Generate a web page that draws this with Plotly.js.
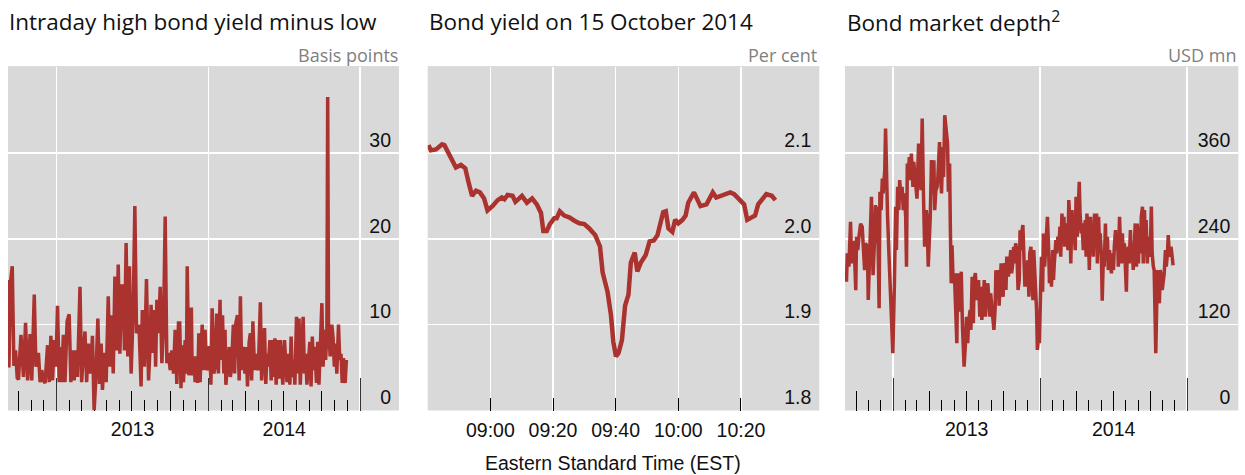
<!DOCTYPE html>
<html><head><meta charset="utf-8">
<script src="https://cdn.plot.ly/plotly-3.0.1.min.js"></script>
<style>html,body{margin:0;padding:0;background:#fff}#chart{width:1245px;height:475px}</style>
</head><body><div id="chart"></div>
<script>
// ---------- texts ----------
const panelTitles = ['Intraday high bond yield minus low', 'Bond yield on 15 October 2014', 'Bond market depth<sup>2</sup>'];
const unitLabels = ['Basis points', 'Per cent', 'USD mn'];
const xTitle2 = 'Eastern Standard Time (EST)';

// ---------- panel 1: intraday high minus low (basis points) ----------
const dates1 = ['2012-09-06','2012-09-08','2012-09-12','2012-09-16','2012-09-20','2012-09-24','2012-09-28','2012-10-01','2012-10-07','2012-10-13','2012-10-18','2012-10-23','2012-10-29','2012-11-02','2012-11-08','2012-11-12','2012-11-18','2012-11-22','2012-11-26','2012-11-30','2012-12-04','2012-12-10','2012-12-14','2012-12-18','2012-12-22','2012-12-26','2012-12-30',
'2013-01-03','2013-01-07','2013-01-11','2013-01-13','2013-01-17','2013-01-21','2013-01-26','2013-01-31','2013-02-04','2013-02-08','2013-02-12','2013-02-16','2013-02-20','2013-02-26','2013-03-02','2013-03-07','2013-03-10','2013-03-14','2013-03-18','2013-03-23','2013-03-28','2013-04-01','2013-04-05','2013-04-10','2013-04-14','2013-04-18','2013-04-21','2013-04-26','2013-04-30','2013-05-05','2013-05-09','2013-05-13','2013-05-17','2013-05-21','2013-05-25','2013-05-29','2013-06-02','2013-06-06','2013-06-10','2013-06-13','2013-06-17','2013-06-21','2013-06-25','2013-06-29','2013-07-04','2013-07-08','2013-07-12','2013-07-18','2013-07-23','2013-07-26','2013-07-31','2013-08-05','2013-08-10','2013-08-14','2013-08-16','2013-08-20','2013-08-24','2013-08-27','2013-08-30','2013-09-03','2013-09-07','2013-09-11','2013-09-15','2013-09-19','2013-09-23','2013-09-27','2013-10-01','2013-10-05','2013-10-09','2013-10-13','2013-10-17','2013-10-21',
'2013-10-24','2013-10-27','2013-10-30','2013-11-02','2013-11-06','2013-11-09','2013-11-11','2013-11-15','2013-11-18','2013-11-21','2013-11-23','2013-11-27','2013-11-30','2013-12-03','2013-12-06','2013-12-09','2013-12-12','2013-12-14','2013-12-17','2013-12-21','2013-12-24','2013-12-27','2013-12-30',
'2014-01-03','2014-01-07','2014-01-10','2014-01-14','2014-01-17','2014-01-21','2014-01-25','2014-01-29','2014-01-31','2014-02-04','2014-02-07','2014-02-10','2014-02-12','2014-02-16','2014-02-20','2014-02-23','2014-02-26','2014-03-02','2014-03-05','2014-03-08','2014-03-12','2014-03-16','2014-03-19','2014-03-22','2014-03-26','2014-03-30','2014-04-02','2014-04-05','2014-04-09','2014-04-12','2014-04-15','2014-04-18','2014-04-22','2014-04-25','2014-04-28','2014-05-01','2014-05-03','2014-05-06','2014-05-09','2014-05-12','2014-05-16','2014-05-19','2014-05-22','2014-05-25','2014-05-29','2014-06-01','2014-06-04','2014-06-07','2014-06-10','2014-06-13','2014-06-17','2014-06-20','2014-06-23','2014-06-26','2014-06-29','2014-07-03','2014-07-06','2014-07-09','2014-07-12','2014-07-16','2014-07-19','2014-07-22','2014-07-25','2014-07-28','2014-08-01','2014-08-04','2014-08-07','2014-08-10','2014-08-13','2014-08-17','2014-08-20','2014-08-23','2014-08-26','2014-08-29','2014-09-02','2014-09-05','2014-09-08','2014-09-11','2014-09-14','2014-09-18','2014-09-21','2014-09-24','2014-09-27','2014-10-01','2014-10-04','2014-10-07','2014-10-10','2014-10-13','2014-10-15','2014-10-17','2014-10-21','2014-10-25','2014-10-28','2014-10-31','2014-11-03','2014-11-06','2014-11-10','2014-11-13','2014-11-16','2014-11-19','2014-11-22','2014-11-26','2014-11-29'];
const spread1 = [15.2,5.0,15.0,16.8,5.2,7.0,3.8,3.6,8.8,3.9,10.2,3.5,8.9,3.5,13.5,5.1,6.7,3.3,4.7,3.5,3.2,7.6,3.3,8.7,3.5,8.2,5.1,
12.2,3.3,7.4,3.3,8.8,3.3,10.4,11.2,3.3,7.0,3.5,7.0,3.9,14.4,3.3,7.4,9.2,3.3,7.8,4.3,8.7,0,3.5,10.7,3.1,7.8,2.4,6.7,3.3,13.3,5.1,11.1,4.3,15.6,7.0,17.0,6.6,14.5,14.5,7.0,19.5,6.3,16.8,4.3,11.5,23.8,9.0,10.0,2.8,11.7,5.1,15.3,3.5,7.8,12.3,6.7,11.7,5.1,12.9,9.0,14.4,5.5,9.8,22.6,5.5,6.7,4.7,7.0,4.3,9.4,3.1,10.2,
10.2,2.6,7.6,3.3,8.2,4.3,16.8,4.1,6.3,12.0,4.1,6.3,3.3,6.3,3.2,9.0,3.3,6.3,10.0,4.7,9.4,5.1,4.7,
7.5,3.0,11.9,4.3,5.1,11.3,4.3,12.9,5.9,11.1,4.3,9.4,3.0,5.5,7.4,3.9,5.5,10.0,4.3,10.2,11.1,3.5,13.3,4.7,7.4,4.3,7.4,2.8,8.0,9.0,3.5,10.4,4.7,6.6,5.1,4.7,7.8,12.6,3.5,6.6,9.6,3.1,6.6,5.1,8.2,3.5,8.2,3.9,8.4,3.0,8.2,3.7,8.2,5.5,3.0,8.2,5.5,3.3,6.6,3.0,8.6,3.9,5.9,3.0,10.9,4.3,10.7,3.0,6.6,10.9,4.3,6.6,3.0,5.9,8.0,2.8,8.6,4.7,7.4,3.2,8.0,3.0,6.3,12.5,5.1,9.4,5.9,9.0,36.5,9.8,6.3,10.0,8.4,5.1,7.8,4.3,10.0,5.9,6.6,3.2,6.1,3.2,5.9];

// ---------- panel 2: yield on 15 October 2014 (per cent) ----------
const day2 = '2014-10-15';
const times2 = ['08:40:15','08:41:00','08:42:40','08:44:35','08:45:20','08:46:55','08:49:00','08:50:35','08:52:00','08:53:05','08:54:10','08:55:25','08:56:40','08:58:00','08:59:05','09:00:40','09:02:20','09:03:40','09:04:30','09:05:30','09:07:05','09:08:00','09:10:05','09:11:40','09:13:20','09:14:50','09:16:10','09:16:55','09:18:00','09:19:00','09:20:25','09:21:10','09:22:10','09:23:35','09:25:10','09:26:50','09:28:25','09:30:00','09:31:35','09:33:30','09:35:00','09:35:50','09:37:25','09:38:30','09:39:15','09:40:05','09:40:55','09:42:00','09:43:00','09:44:05','09:44:50','09:46:05','09:46:55','09:48:00','09:49:35','09:50:50','09:52:10','09:53:20','09:54:25','09:55:10','09:56:00','09:56:50','09:58:05','09:59:00','10:00:00','10:01:20','10:02:20','10:03:10','10:05:00','10:06:00','10:07:05','10:09:00','10:11:00','10:12:05','10:13:30','10:15:05','10:16:35','10:17:50','10:19:25','10:21:00','10:22:00','10:23:00','10:24:30','10:25:30','10:26:35','10:28:05','10:29:50','10:31:00'];
const yield2 = [2.109,2.103,2.104,2.110,2.109,2.097,2.083,2.086,2.082,2.065,2.050,2.056,2.054,2.047,2.033,2.038,2.045,2.048,2.046,2.051,2.050,2.043,2.050,2.042,2.047,2.040,2.030,2.009,2.009,2.017,2.024,2.024,2.032,2.027,2.025,2.021,2.018,2.017,2.012,2.004,1.991,1.961,1.938,1.911,1.880,1.863,1.867,1.882,1.922,1.935,1.972,1.984,1.962,1.972,1.981,1.997,1.998,2.004,2.019,2.031,2.032,2.012,2.008,2.022,2.018,2.022,2.027,2.042,2.054,2.046,2.038,2.040,2.054,2.048,2.050,2.052,2.054,2.052,2.046,2.040,2.022,2.024,2.027,2.040,2.045,2.052,2.050,2.045];
const timeTicks2 = ['09:00','09:20','09:40','10:00','10:20'];

// ---------- panel 3: market depth (USD mn) ----------
const dates3 = ['2012-09-07','2012-09-09','2012-09-13','2012-09-17','2012-09-20','2012-09-23','2012-09-26','2012-09-30','2012-10-02','2012-10-05','2012-10-08','2012-10-12','2012-10-16','2012-10-19','2012-10-22','2012-10-24','2012-10-29','2012-10-31','2012-11-03','2012-11-08','2012-11-10','2012-11-12','2012-11-16','2012-11-18','2012-11-21','2012-11-23','2012-11-27','2012-11-29','2012-12-02','2012-12-05','2012-12-07','2012-12-11','2012-12-13','2012-12-15','2012-12-18','2012-12-21','2012-12-24','2012-12-27','2012-12-30','2012-12-31',
'2013-01-04','2013-01-07','2013-01-09','2013-01-12','2013-01-15','2013-01-17','2013-01-21','2013-01-23','2013-01-26','2013-01-29','2013-02-01','2013-02-03','2013-02-05','2013-02-07','2013-02-10','2013-02-13','2013-02-15','2013-02-19','2013-02-21','2013-02-24','2013-02-27','2013-03-01','2013-03-05','2013-03-07','2013-03-11','2013-03-14','2013-03-17','2013-03-20','2013-03-24','2013-03-26','2013-03-29','2013-04-01','2013-04-03','2013-04-06','2013-04-09','2013-04-12','2013-04-14','2013-04-17','2013-04-20','2013-04-22','2013-04-26','2013-04-28','2013-05-01','2013-05-04','2013-05-06','2013-05-09','2013-05-12','2013-05-16','2013-05-18','2013-05-21','2013-05-23','2013-05-25','2013-05-27','2013-05-30','2013-06-02','2013-06-04','2013-06-08','2013-06-10','2013-06-13','2013-06-16','2013-06-19','2013-06-22','2013-06-24','2013-06-26','2013-06-29','2013-07-02','2013-07-05','2013-07-07','2013-07-11','2013-07-13','2013-07-16','2013-07-19','2013-07-21','2013-07-24','2013-07-26','2013-07-29','2013-08-01','2013-08-04','2013-08-07','2013-08-09','2013-08-13','2013-08-15','2013-08-18','2013-08-20','2013-08-24','2013-08-26','2013-08-29','2013-08-31','2013-09-03','2013-09-06','2013-09-08','2013-09-11','2013-09-13','2013-09-16','2013-09-18','2013-09-21','2013-09-23','2013-09-26','2013-09-28','2013-10-01','2013-10-03','2013-10-06','2013-10-08','2013-10-10','2013-10-14','2013-10-16','2013-10-20','2013-10-22','2013-10-24','2013-10-27','2013-10-29','2013-11-01','2013-11-04','2013-11-07','2013-11-10','2013-11-12','2013-11-14','2013-11-17','2013-11-19','2013-11-21','2013-11-24','2013-11-27','2013-11-29','2013-12-01','2013-12-04','2013-12-06','2013-12-09','2013-12-11','2013-12-14','2013-12-16','2013-12-20','2013-12-23','2013-12-25','2013-12-28','2013-12-30',
'2014-01-02','2014-01-04','2014-01-07','2014-01-09','2014-01-12','2014-01-14','2014-01-17','2014-01-19','2014-01-22','2014-01-24','2014-01-27','2014-01-29','2014-02-01','2014-02-03','2014-02-05','2014-02-09','2014-02-11','2014-02-14','2014-02-16','2014-02-19','2014-02-21','2014-02-24','2014-02-26','2014-03-01','2014-03-03','2014-03-06','2014-03-08','2014-03-11','2014-03-13','2014-03-16','2014-03-18','2014-03-21','2014-03-23','2014-03-25','2014-03-29','2014-03-31','2014-04-03','2014-04-05','2014-04-08','2014-04-10','2014-04-13','2014-04-15','2014-04-18','2014-04-20','2014-04-23','2014-04-25','2014-04-27','2014-05-01','2014-05-03','2014-05-06','2014-05-08','2014-05-11','2014-05-13','2014-05-16','2014-05-18','2014-05-21','2014-05-23','2014-05-26','2014-05-28','2014-05-30','2014-06-02','2014-06-04','2014-06-07','2014-06-09','2014-06-12','2014-06-14','2014-06-17','2014-06-19','2014-06-22','2014-06-24','2014-06-27','2014-06-29','2014-07-02','2014-07-04','2014-07-07','2014-07-09','2014-07-12','2014-07-14','2014-07-17','2014-07-19','2014-07-22','2014-07-24','2014-07-27','2014-07-29','2014-07-31','2014-08-03','2014-08-05','2014-08-08','2014-08-10','2014-08-13','2014-08-15','2014-08-18','2014-08-20','2014-08-23','2014-08-25','2014-08-28','2014-08-30','2014-09-02','2014-09-04','2014-09-07','2014-09-09','2014-09-12','2014-09-14','2014-09-17','2014-09-19','2014-09-21','2014-09-24','2014-09-26','2014-09-29','2014-10-01','2014-10-04','2014-10-06','2014-10-09','2014-10-11','2014-10-15','2014-10-16','2014-10-19','2014-10-21','2014-10-24','2014-10-26','2014-10-29','2014-10-31','2014-11-03','2014-11-05','2014-11-08','2014-11-10','2014-11-13','2014-11-15','2014-11-17','2014-11-20','2014-11-22','2014-11-26','2014-11-27'];
const depth3 = [180,219.5,201,263.7,205.6,235.8,233.5,168,242.8,224.2,243,261,256.7,224,196,233.5,228.8,154.4,210,298.6,233.5,189,242.8,287,233.5,284.7,143,305.6,280,324,303.3,336,394,310.2,270.7,224.2,177.7,126.5,98.6,80,
177.7,284.7,224.2,312.6,280,322,294,312.6,280,303.3,270.7,201,345,326.5,354,321.9,359,312.6,347.4,326.5,308,296,373,361.4,308,408,305.6,229,280,270.7,201,242.8,270.7,350,303.3,349.8,280,308,312.6,326.5,375,333.5,303.3,368,326.5,412.6,398.6,373,305.6,345,252,177.7,231,177.7,191.6,163.7,94,191.6,173,138,194,117.2,94,61.4,89.3,131,94,121.9,140.5,112.6,187,121.9,182.3,192,173,154.4,182.3,131.2,173,126.5,154.4,182.3,131.2,159,177.7,163.7,131,163.7,145.1,126.5,112.6,140.5,196,168.4,196.3,146.6,177.7,205.6,177.7,159,205.6,201,168.4,215,187,196.3,224.2,191.6,201,228.8,205.6,233.5,224.2,168.4,182.3,252,224.2,252,259,224.2,173,205.6,173,210,159,219.5,228.8,196.3,154,224.2,177.7,140.5,84.7,103.3,94,
173,214.9,166,247.4,201,224.2,242.8,270.7,224.2,177.7,205.6,173,224.2,182.3,205.6,238.1,219.5,242.8,224.2,257,214.9,275.3,238.1,270.7,228.8,261.4,242.8,224.2,294,261.4,205.6,280,252,266,224,298.6,242.8,280,319.5,275.3,247.4,261.4,224.2,242.8,266,214.9,275.3,238.1,196.3,270.7,224.2,261.4,214.9,275.3,238.1,275.3,205.6,270.7,233.5,247.4,214.9,153.5,219.5,201,261.4,210,242.8,196.3,224.2,205.6,191.6,219.5,196.3,228.8,252,224.2,247.4,201,270.7,238.1,205.6,247.4,210,233.5,196.3,166,219.5,228.8,205.6,252,214.9,219.5,196.3,228.8,261.4,201,261.4,205.6,256.7,219.5,270.7,284.7,205.6,280,224.2,266,205.6,242.8,228.8,214.9,285,219.5,201,196.3,80,131.2,196.3,159,149.8,196.3,187,168.4,187,191.6,224.2,201,219.5,245,224.2,214.9,228.8,205.6,203];

// ---------- axes definitions (values only) ----------
const yTicks1 = [0, 10, 20, 30];
const yTicks2 = [1.8, 1.9, 2.0, 2.1];
const yTicks3 = [0, 120, 240, 360];
const quarterTicks = ['2012-10-01','2013-04-01','2013-07-01','2013-10-01','2014-04-01','2014-07-01','2014-10-01','2015-04-01'];

// ---------- styling ----------
const RED = 'rgb(170,50,47)';
const tickFont = {family: 'Liberation Sans, Arial, sans-serif', size: 19.5, color: '#111'};
const titleFont = {family: 'Open Sans, Noto Sans, sans-serif', size: 22.5, color: '#111'};
const unitFont = {family: 'Open Sans, Noto Sans, sans-serif', size: 18, color: '#808080'};
const W = 1245, H = 475;
const px = v => v / W, py = v => (H - v) / H;
const plotTop = 67, plotBottom = 410.5;
const doms = [[8, 399], [427.7, 819.3], [845, 1238.3]];
const ydom = [py(plotBottom), py(plotTop)];

const dateAxis = (dom, range) => ({
  domain: [px(dom[0]), px(dom[1])], type: 'date', range: range,
  dtick: 'M12', tick0: '2013-01-01', ticklabelmode: 'period', tickformat: '%Y',
  ticks: 'inside', ticklen: 33, tickcolor: '#333', tickwidth: 1, ticklabelstandoff: 5,
  showgrid: true, gridcolor: '#ffffff', gridwidth: 1.5, zeroline: false, showline: false,
  tickfont: tickFont, layer: 'below traces', fixedrange: true,
  minor: {dtick: 'M1', tick0: '2012-01-01', ticks: 'inside', ticklen: 11, tickcolor: '#000', tickwidth: 1, showgrid: false}
});
const quarterAxis = (base, range) => ({
  overlaying: base, anchor: base === 'x' ? 'y' : 'y3', type: 'date', range: range,
  tickvals: quarterTicks, ticks: 'inside', ticklen: 20, tickcolor: '#000', tickwidth: 1,
  showticklabels: false, showgrid: false, zeroline: false, showline: false, layer: 'below traces'
});
const valueAxis = (anchor, range, tickvals, fmt) => ({
  domain: ydom, anchor: anchor, side: 'right', range: range, tickvals: tickvals, tickformat: fmt,
  ticklabelposition: 'inside', ticklabelshift: -13, ticklabelstandoff: 5,
  ticks: '', showgrid: true, gridcolor: '#ffffff', gridwidth: 1.5, zeroline: false, showline: false,
  tickfont: tickFont, layer: 'below traces', fixedrange: true
});

const range1 = ['2012-09-05 19:00', '2015-04-04 14:00'];
const range3 = ['2012-09-03 07:00', '2015-05-07 22:00'];
const range2 = [day2 + ' 08:40', day2 + ' 10:45'];

const traces = [
  {x: dates1, y: spread1, xaxis: 'x', yaxis: 'y', type: 'scatter', mode: 'lines', line: {color: RED, width: 3.5}, hoverinfo: 'skip'},
  {x: times2.map(t => day2 + ' ' + t), y: yield2, xaxis: 'x2', yaxis: 'y2', type: 'scatter', mode: 'lines', line: {color: RED, width: 4.5}, hoverinfo: 'skip'},
  {x: dates3, y: depth3, xaxis: 'x3', yaxis: 'y3', type: 'scatter', mode: 'lines', line: {color: RED, width: 3.5}, hoverinfo: 'skip'},
  {x: [], y: [], xaxis: 'x4', yaxis: 'y', type: 'scatter', mode: 'lines', showlegend: false},
  {x: [], y: [], xaxis: 'x5', yaxis: 'y3', type: 'scatter', mode: 'lines', showlegend: false}
];

const annotations = [];
const titleX = [6.5, 427, 845];
const unitRight = [399.5, 818.5, 1237.5];
for (let i = 0; i < 3; i++) {
  annotations.push({text: panelTitles[i], xref: 'paper', yref: 'paper', x: px(titleX[i]), y: py(22), xanchor: 'left', yanchor: 'middle', showarrow: false, font: titleFont});
  annotations.push({text: unitLabels[i], xref: 'paper', yref: 'paper', x: px(unitRight[i]), y: py(55), xanchor: 'right', yanchor: 'middle', showarrow: false, font: unitFont});
}
annotations.push({text: xTitle2, xref: 'paper', yref: 'paper', x: px(613.3), y: py(463), xanchor: 'center', yanchor: 'middle', showarrow: false, font: tickFont});

const shapes = doms.map(d => ({type: 'line', xref: 'paper', yref: 'paper', x0: px(d[0]), x1: px(d[1]), y0: py(66.5), y1: py(66.5), line: {color: '#dcdcdc', width: 1}}));

const layout = {
  width: W, height: H, margin: {l: 0, r: 0, t: 0, b: 0, pad: 0},
  paper_bgcolor: '#ffffff', plot_bgcolor: '#d9d9d9', showlegend: false,
  xaxis: Object.assign(dateAxis(doms[0], range1), {anchor: 'y'}),
  yaxis: valueAxis('x', [0, 40], yTicks1, ''),
  xaxis2: {
    domain: [px(doms[1][0]), px(doms[1][1])], anchor: 'y2', type: 'date', range: range2,
    tickvals: timeTicks2.map(t => day2 + ' ' + t), ticktext: timeTicks2,
    ticks: 'inside', ticklen: 13, tickcolor: '#000', tickwidth: 1, ticklabelstandoff: 6,
    showgrid: true, gridcolor: '#ffffff', gridwidth: 1.5, zeroline: false, showline: false,
    tickfont: tickFont, layer: 'below traces', fixedrange: true
  },
  yaxis2: valueAxis('x2', [1.8, 2.2], yTicks2, '.1f'),
  xaxis3: Object.assign(dateAxis(doms[2], range3), {anchor: 'y3'}),
  yaxis3: valueAxis('x3', [0, 480], yTicks3, ''),
  xaxis4: quarterAxis('x', range1),
  xaxis5: quarterAxis('x3', range3),
  annotations: annotations,
  shapes: shapes
};

Plotly.newPlot('chart', traces, layout, {staticPlot: true, displayModeBar: false});
</script>
</body></html>
